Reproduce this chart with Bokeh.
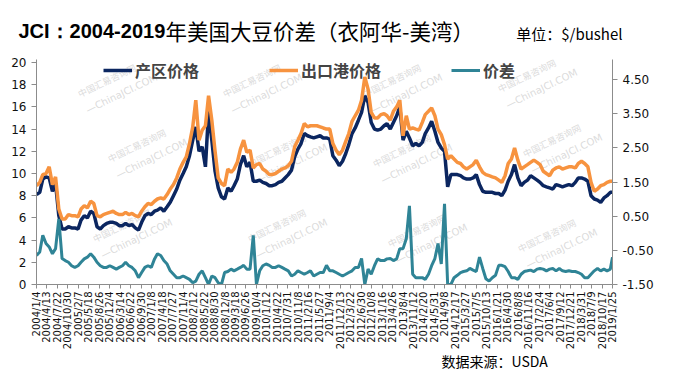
import pandas as pd
from bokeh.plotting import figure
from bokeh.models import (Range1d, LinearAxis, FixedTicker, NumeralTickFormatter,
                          Legend, LegendItem, Label, ColumnDataSource)
from bokeh.embed import file_html
from bokeh.resources import INLINE

# ---------------- data ----------------
title_main = "JCI：2004-2019"
title_rest = "年美国大豆价差（衣阿华-美湾）"
unit_text = "单位：$/bushel"
source_text = "数据来源：USDA"
series_names = ["产区价格", "出口港价格", "价差"]

tick_labels = [
    "2004/1/4", "2004/4/13", "2004/7/22", "2004/10/30", "2005/2/7", "2005/5/18",
    "2005/8/26", "2005/12/4", "2006/3/14", "2006/6/22", "2006/9/30", "2007/1/8",
    "2007/4/18", "2007/7/27", "2007/11/4", "2008/2/12", "2008/5/22", "2008/8/30",
    "2008/12/8", "2009/3/18", "2009/6/26", "2009/10/4", "2010/1/12", "2010/4/22",
    "2010/7/31", "2010/11/8", "2011/2/16", "2011/5/27", "2011/9/4", "2011/12/13",
    "2012/3/22", "2012/6/30", "2012/10/8", "2013/1/16", "2013/4/26", "2013/8/4",
    "2013/11/12", "2014/2/20", "2014/5/31", "2014/9/8", "2014/12/17", "2015/3/27",
    "2015/7/5", "2015/10/13", "2016/1/21", "2016/4/30", "2016/8/8", "2016/11/16",
    "2017/2/24", "2017/6/4", "2017/9/12", "2017/12/21", "2018/3/31", "2018/7/9",
    "2018/10/17", "2019/1/25",
]
left_ticks = [0, 2, 4, 6, 8, 10, 12, 14, 16, 18, 20]
right_ticks = [-1.5, -0.5, 0.5, 1.5, 2.5, 3.5, 4.5]

# monthly observations (4th of each month, Jan 2004 .. Jan 2019) + last week
obs_last = "2019-01-25"

interior = [  # 产区价格 (left axis)
    8.1, 8.3, 9.5, 9.7, 9.6, 8.4, 9.1, 6.2, 5.0, 5.0, 5.2, 5.1,
    5.1, 5.0, 5.8, 6.2, 6.0, 6.6, 6.4, 5.2, 5.0, 5.3, 5.5, 5.6,
    5.6, 5.5, 5.3, 5.3, 5.5, 5.3, 5.4, 5.1, 4.9, 5.6, 6.2, 6.4,
    6.3, 6.6, 6.7, 6.9, 6.6, 7.0, 7.4, 8.0, 8.6, 9.4, 10.0, 10.6,
    11.6, 13.0, 14.2, 12.0, 12.4, 10.6, 15.6, 13.0, 10.2, 8.7, 7.9, 7.7,
    8.7, 8.4, 8.9, 9.5, 10.8, 11.6, 10.6, 11.0, 9.3, 9.3, 9.4, 9.2,
    9.1, 8.9, 8.9, 9.0, 9.2, 9.3, 9.6, 9.9, 10.3, 11.5, 12.2, 12.7,
    13.6, 13.4, 13.3, 13.2, 13.3, 13.4, 13.2, 13.2, 13.1, 11.6, 11.2, 10.7,
    11.1, 11.8, 12.6, 13.6, 14.1, 14.8, 15.5, 17.0, 16.4, 14.6, 14.0, 13.9,
    14.0, 14.3, 14.5, 14.0, 14.6, 15.2, 16.0, 13.0, 13.8, 13.2, 12.5, 12.7,
    12.5, 12.8, 13.6, 14.1, 14.7, 13.8, 12.8, 12.3, 12.0, 8.8, 9.9, 9.9,
    9.9, 9.8, 9.6, 9.5, 9.5, 9.6, 9.9, 9.0, 8.4, 8.3, 8.3, 8.3,
    8.2, 8.2, 8.0, 8.5, 9.3, 9.9, 10.8, 9.6, 8.9, 9.2, 9.4, 9.8,
    9.6, 9.4, 9.2, 8.9, 8.8, 8.7, 8.6, 9.0, 8.9, 8.8, 8.9, 9.0,
    8.9, 9.2, 9.6, 9.6, 9.5, 9.3, 8.0, 7.7, 7.6, 7.4, 7.8, 8.0,
    8.3, 8.3,
]

gulf = [  # 出口港价格 (left axis)
    8.9, 9.2, 9.9, 10.0, 10.6, 9.0, 9.7, 6.8, 5.9, 5.9, 6.3, 6.2,
    6.2, 6.1, 6.8, 7.1, 6.9, 7.5, 7.3, 6.2, 6.1, 6.3, 6.4, 6.5,
    6.6, 6.4, 6.3, 6.3, 6.5, 6.3, 6.4, 6.2, 6.1, 6.6, 7.0, 7.3,
    7.2, 7.5, 7.7, 7.8, 7.7, 8.1, 8.6, 9.0, 9.6, 10.4, 11.0, 11.5,
    12.7, 14.2, 16.6, 13.0, 13.9, 14.3, 17.0, 14.8, 12.0, 9.6, 9.1, 8.9,
    10.4, 10.1, 10.4, 11.0, 12.2, 13.0, 11.9, 12.1, 10.5, 10.8, 10.9, 10.4,
    10.2, 9.9, 9.9, 10.0, 10.2, 10.4, 10.5, 10.7, 11.1, 12.4, 13.0, 13.6,
    14.5, 14.2, 14.3, 14.3, 14.3, 14.2, 14.1, 14.0, 14.0, 12.7, 12.1, 11.7,
    12.1, 12.9, 13.6, 14.7, 15.2, 15.7, 16.6, 18.7, 17.6, 15.5, 15.0, 15.0,
    15.3, 15.4, 15.2, 14.8, 15.6, 16.0, 16.6, 13.4, 15.2, 14.0, 14.1, 14.0,
    13.9, 14.6, 15.3, 15.6, 15.9, 15.2, 14.0, 13.5, 12.6, 11.3, 11.6, 11.3,
    11.0, 10.9, 10.6, 10.4, 10.6, 10.8, 11.2, 10.6, 10.1, 9.9, 9.8, 9.7,
    9.6, 9.4, 9.2, 9.8, 10.9, 11.3, 12.3, 11.2, 10.4, 10.6, 10.8, 11.0,
    11.2, 11.0, 10.8, 10.2, 10.0, 9.8, 10.3, 10.5, 10.6, 10.4, 10.5, 10.6,
    10.6, 10.5, 10.9, 11.1, 10.9, 10.6, 9.2, 8.4, 8.6, 8.9, 9.0, 9.2,
    9.3, 9.3,
]

spread = [  # 价差 (right axis)
    -0.65, -0.55, -0.06, -0.30, -0.40, -0.60, -0.45, 0.42, -0.74, -0.80, -0.85, -0.95,
    -1.00, -0.95, -0.85, -0.75, -0.70, -0.60, -0.70, -0.85, -0.95, -1.00, -1.00, -0.95,
    -1.00, -1.05, -1.00, -0.95, -0.85, -0.95, -1.00, -1.10, -1.30, -1.15, -1.00, -0.95,
    -1.00, -0.75, -0.60, -0.65, -0.80, -0.90, -1.10, -1.20, -1.30, -1.30, -1.25, -1.30,
    -1.35, -1.45, -1.40, -1.20, -1.10, -1.30, -1.50, -1.25, -1.30, -1.45, -1.50, -1.15,
    -1.12, -1.05, -1.10, -1.05, -1.00, -0.94, -1.05, -1.05, -0.06, -1.50, -1.10, -0.95,
    -0.90, -0.94, -1.00, -1.00, -0.95, -1.00, -1.05, -1.10, -1.25, -1.20, -1.10, -1.15,
    -1.20, -1.15, -1.10, -1.25, -1.20, -1.15, -1.15, -0.94, -1.10, -1.10, -1.15, -1.20,
    -1.25, -1.20, -1.15, -1.10, -1.00, -1.00, -0.74, -1.50, -1.05, -1.20, -0.95, -0.75,
    -0.80, -0.80, -0.75, -0.74, -0.80, -0.75, -0.45, -0.45, -0.16, 0.80, -1.20, -1.30,
    -1.30, -1.30, -1.35, -1.20, -0.95, -0.74, -0.30, -0.90, 0.86, -1.50, -1.50, -1.30,
    -1.23, -1.15, -1.12, -1.10, -1.03, -1.08, -1.12, -0.70, -1.03, -1.33, -1.40, -1.30,
    -1.23, -0.94, -0.94, -0.98, -1.12, -1.30, -1.30, -1.35, -1.20, -1.12, -1.10, -1.08,
    -1.12, -1.05, -1.03, -1.05, -1.10, -1.05, -1.03, -1.10, -1.03, -1.10, -1.12, -1.10,
    -1.12, -1.12, -1.15, -1.20, -1.30, -1.30, -1.20, -1.10, -1.03, -1.10, -1.05, -1.10,
    -1.05, -0.70,
]

# ---------------- build ----------------
dates = list(pd.date_range("2004-01-01", periods=len(interior) - 1, freq="MS")
             + pd.Timedelta(days=3)) + [pd.Timestamp(obs_last)]
src = ColumnDataSource(dict(date=dates, interior=interior, gulf=gulf, spread=spread))

tick_ts = pd.to_datetime(tick_labels, format="%Y/%m/%d")
tick_ms = [int(t.value // 10**6) for t in tick_ts]

NAVY = "#0b2660"
ORANGE = "#f7933f"
TEAL = "#2f8496"
AXIS = "#8c8c8c"
CJK = "Noto Sans CJK SC"
W = 677

# frame: 224 px for 0..20 plus 3 px head-room above the top tick
FRAME_H = 227
Y_TOP = 20 * FRAME_H / 224
R_TOP = -1.5 + 6.5 * FRAME_H / 224


def text_strip(h):
    f = figure(width=W, height=h, x_range=Range1d(0, W), y_range=Range1d(0, h),
               output_backend="svg", toolbar_location=None,
               x_axis_location=None, y_axis_location=None,
               min_border=0, min_border_left=0, min_border_right=0,
               min_border_top=0, min_border_bottom=0)
    f.outline_line_color = None
    f.xgrid.visible = False
    f.ygrid.visible = False
    return f


# --- title strip (52 px); screen units measured from the strip's bottom-left ---
TOP_H = 52
top = text_strip(TOP_H)
top.add_layout(Label(x=18, y=TOP_H - 30, x_units="screen", y_units="screen",
                     text=title_main, text_font="Liberation Sans", text_font_style="bold",
                     text_font_size="20px", text_color="black", text_baseline="middle"))
top.add_layout(Label(x=165, y=TOP_H - 30, x_units="screen", y_units="screen",
                     text=title_rest, text_font=CJK,
                     text_font_size="21.5px", text_color="black", text_baseline="middle"))
top.add_layout(Label(x=622, y=TOP_H - 33, x_units="screen", y_units="screen",
                     text=unit_text, text_font=CJK, text_align="right",
                     text_font_size="15px", text_color="black", text_baseline="middle"))

# --- main chart (300 px) ---
p = figure(width=W, height=300, output_backend="svg", toolbar_location=None,
           x_axis_type="datetime",
           x_range=Range1d(tick_ms[0], tick_ms[-1]),
           y_range=Range1d(0, Y_TOP),
           min_border_left=36, min_border_right=65, min_border_top=300 - 66 - FRAME_H,
           min_border_bottom=66)
p.extra_y_ranges = {"spread": Range1d(-1.5, R_TOP)}
p.outline_line_color = None
p.xgrid.visible = False
p.ygrid.visible = False

# faint watermark, frame-relative screen units
wm_centers = [(100, 100), (245, 100), (385, 100), (520, 95),
              (130, 165), (270, 170), (395, 170), (545, 160),
              (115, 245), (270, 245), (410, 250), (540, 255)]
for (cx, cy) in wm_centers:
    fx, fy = cx - 36, 286 - cy
    p.add_layout(Label(x=fx - 22, y=fy + 4, x_units="screen", y_units="screen",
                       text="中国汇易咨询网", angle=0.45, text_font=CJK,
                       text_font_size="9px", text_color="#d2d2d2", text_alpha=0.8,
                       text_baseline="middle", level="underlay"))
    p.add_layout(Label(x=fx - 14, y=fy - 12, x_units="screen", y_units="screen",
                       text="—ChinaJCI.COM", angle=0.45, text_font="DejaVu Sans",
                       text_font_size="10px", text_color="#d2d2d2", text_alpha=0.8,
                       text_baseline="middle", level="underlay"))

r_int = p.line("date", "interior", source=src, color=NAVY, line_width=3.5)
r_gulf = p.line("date", "gulf", source=src, color=ORANGE, line_width=3.5)
r_spr = p.line("date", "spread", source=src, color=TEAL, line_width=3,
               y_range_name="spread")

xa = p.xaxis[0]
xa.ticker = FixedTicker(ticks=tick_ms)
xa.major_label_overrides = {ms: lab for ms, lab in zip(tick_ms, tick_labels)}
xa.major_label_orientation = 3.14159265 / 2
xa.major_label_text_font = "DejaVu Sans"
xa.major_label_text_font_size = "10px"
xa.major_label_text_color = "#111111"
xa.major_label_standoff = 3
xa.minor_tick_line_color = None
xa.major_tick_in = 0
xa.major_tick_out = 4
xa.axis_line_color = AXIS
xa.major_tick_line_color = AXIS

ya = p.yaxis[0]
ya.ticker = FixedTicker(ticks=left_ticks)
ya.major_label_text_font = "DejaVu Sans"
ya.major_label_text_font_size = "12px"
ya.major_label_text_color = "#111111"
ya.major_tick_in = 0
ya.major_tick_out = 5
ya.major_label_standoff = 5
ya.minor_tick_line_color = None
ya.axis_line_color = AXIS
ya.major_tick_line_color = AXIS

ra = LinearAxis(y_range_name="spread", ticker=FixedTicker(ticks=right_ticks),
                formatter=NumeralTickFormatter(format="0.00"))
ra.major_label_text_font = "DejaVu Sans"
ra.major_label_text_font_size = "12px"
ra.major_label_text_color = "#111111"
ra.major_tick_in = 0
ra.major_tick_out = 5
ra.major_label_standoff = 5
ra.minor_tick_line_color = None
ra.axis_line_color = AXIS
ra.major_tick_line_color = AXIS
p.add_layout(ra, "right")

legend = Legend(items=[LegendItem(label=series_names[0], renderers=[r_int]),
                       LegendItem(label=series_names[1], renderers=[r_gulf]),
                       LegendItem(label=series_names[2], renderers=[r_spr])],
                orientation="horizontal", location=(67, 201),
                border_line_color=None, background_fill_alpha=0,
                label_text_font=CJK, label_text_font_style="bold",
                label_text_font_size="16px", glyph_width=29, glyph_height=26,
                label_height=26, label_standoff=3, spacing=70, padding=0, margin=0)
p.add_layout(legend)

# --- source strip (24 px) ---
BOT_H = 24
bot = text_strip(BOT_H)
bot.add_layout(Label(x=441, y=BOT_H - 8, x_units="screen", y_units="screen",
                     text=source_text, text_font=CJK,
                     text_font_size="14px", text_color="black", text_baseline="middle"))

# three independent roots stacked on the page (no frame alignment between them)
open("out.html", "w").write(file_html([top, p, bot], INLINE))
